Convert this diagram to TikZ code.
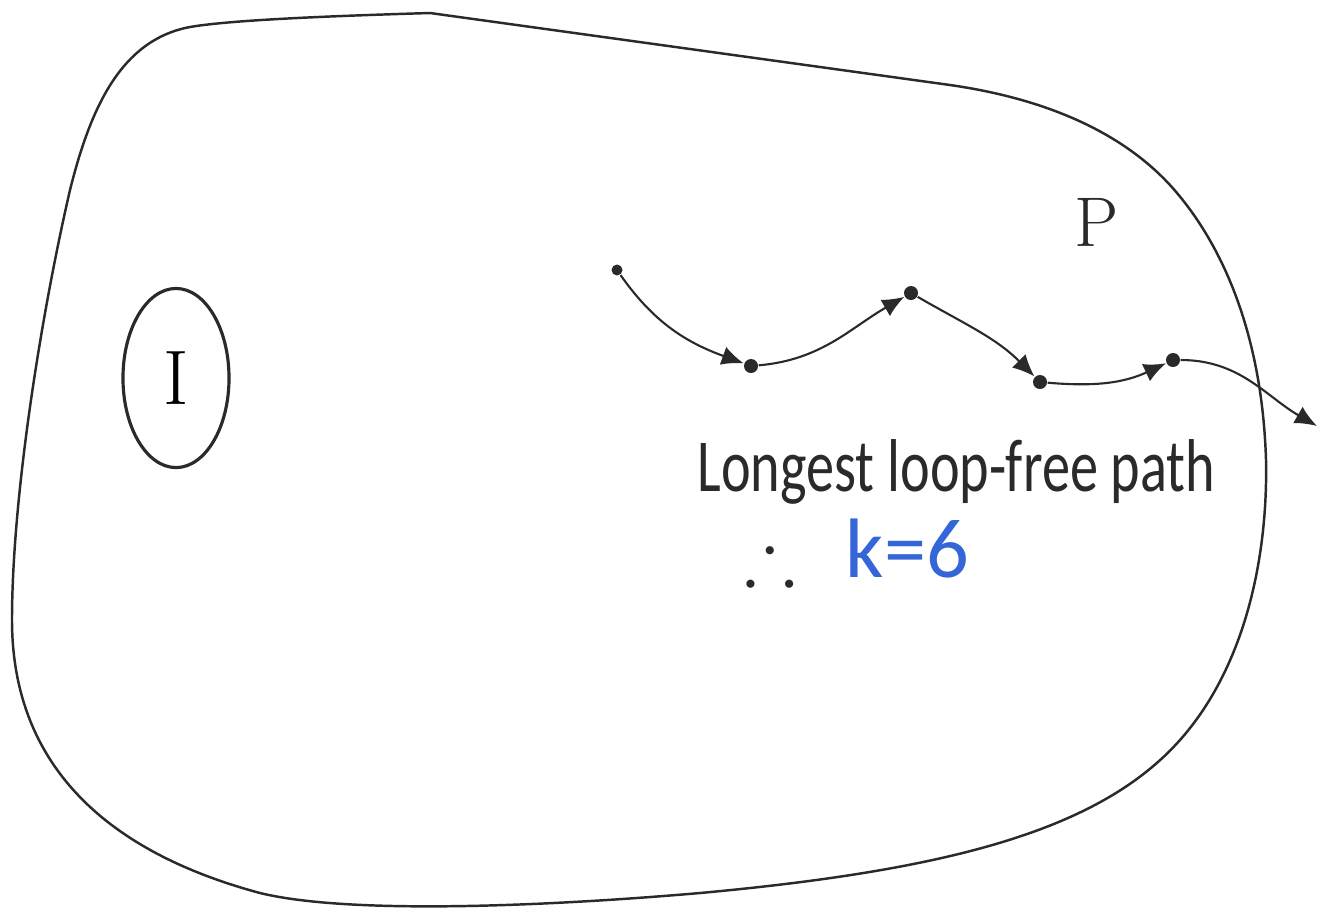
\documentclass[tikz,border=0pt]{standalone}
\usepackage{amssymb}
\usepackage{fontspec}
\newfontfamily\handfont{Carlito}
\usetikzlibrary{arrows.meta,shapes.geometric}
\definecolor{ink}{HTML}{2A2A2A}
\definecolor{pen}{HTML}{3566D8}
\tikzset{
boundary/.style={draw=ink,line width=.7pt},
subset/.style={draw=ink,line width=.9pt,ellipse,minimum width=1.06cm,minimum height=1.79cm,inner sep=0pt,font=\fontsize{22}{24}\selectfont},
vertex/.style={circle,fill=ink,inner sep=0pt,minimum size=1.4mm},
hop/.style={-{Latex[length=2.2mm,width=1.9mm]},draw=ink,line width=.6pt},
hand/.style={text=ink,font=\handfont\fontsize{16}{18}\selectfont,inner sep=0pt}
}
\begin{document}
\begin{tikzpicture}[x=.01cm,y=.01cm]
\useasboundingbox (0,0) rectangle (1321,-911);
\draw[boundary] (430,-13) .. controls (330,-16) and (230,-20) .. (190,-27)
 .. controls (120,-40) and (90,-110) .. (70,-190)
 .. controls (40,-320) and (12,-500) .. (12,-620)
 .. controls (12,-760) and (100,-850) .. (260,-893)
 .. controls (350,-915) and (550,-906) .. (700,-893)
 .. controls (950,-870) and (1100,-830) .. (1180,-740)
 .. controls (1244,-668) and (1268,-560) .. (1266,-460)
 .. controls (1262,-330) and (1220,-240) .. (1170,-185)
 .. controls (1110,-120) and (1020,-95) .. (950,-85)
 -- cycle;
\node[subset](inv) at (176,-378){I};
\node[text=ink,font=\fontsize{20}{22}\selectfont](pset) at (1097,-222){P};
\node[vertex,minimum size=1.1mm](n1) at (617,-270){};
\node[vertex](n2) at (751,-366){};
\node[vertex](n3) at (911,-293){};
\node[vertex](n4) at (1040,-382){};
\node[vertex](n5) at (1173,-360){};
\coordinate(exit) at (1317,-426);
\draw[hop](n1) to[out=-55,in=160] (n2);
\draw[hop](n2) to[out=5,in=-150] (n3);
\draw[hop](n3) to[out=-30,in=135] (n4);
\draw[hop](n4) to[out=-5,in=-155] (n5);
\draw[hop](n5) to[out=0,in=150] (exit);
\node[hand,anchor=base west](txt) at (697,-491){\scalebox{1}[1.33]{Longest loop-free path}};
\node[text=ink,font=\fontsize{22}{24}\selectfont](thf) at (770,-556){$\therefore$};
\node[hand,text=pen,anchor=base west,font=\handfont\fontsize{24}{26}\selectfont](kval) at (845,-577){k=6};
\end{tikzpicture}
\end{document}
